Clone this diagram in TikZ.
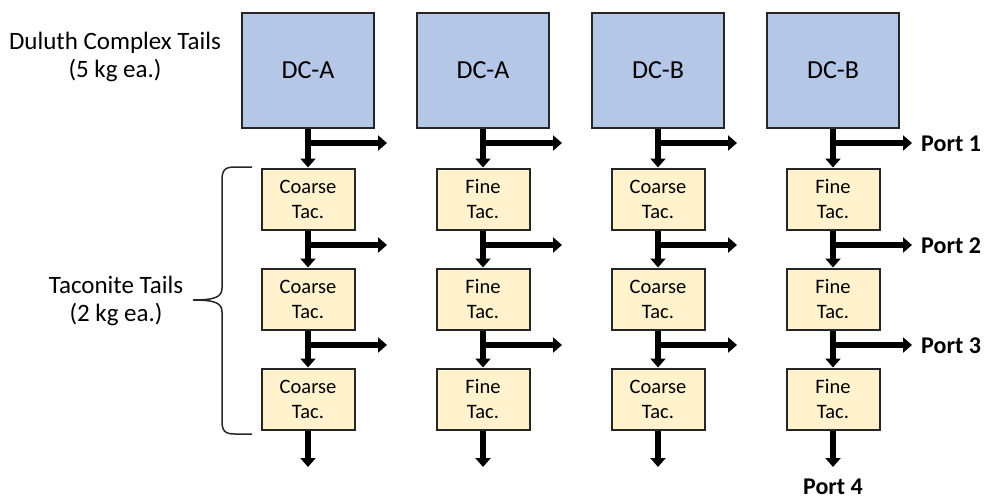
\documentclass[tikz,border=0pt]{standalone}
\usepackage{fontspec}
\setmainfont{Carlito}
\usetikzlibrary{arrows.meta}
\definecolor{dcblue}{HTML}{B4C7E7}
\definecolor{tacyellow}{HTML}{FFF2CC}
\definecolor{edgegray}{HTML}{262626}
\begin{document}
\begin{tikzpicture}[x=1pt,y=-1pt,
  dcbox/.style={draw=edgegray, line width=2pt, fill=dcblue, minimum width=132pt, minimum height=115pt, inner sep=0pt, font=\fontsize{26}{30}\selectfont},
  tacbox/.style={draw=edgegray, line width=2pt, fill=tacyellow, minimum width=93pt, minimum height=61pt, inner sep=0pt, align=center, font=\fontsize{20.5}{25}\selectfont},
  flow/.style={line width=5.5pt, -{Triangle[length=9pt,width=15pt]}},
  sidelabel/.style={align=center, font=\fontsize{25}{28}\selectfont},
  portlabel/.style={font=\bfseries\fontsize{24}{28}\selectfont, inner sep=0pt},
  bracestyle/.style={line width=1.5pt, draw=edgegray}
]
\useasboundingbox (0,0) rectangle (985,499);

\foreach \i/\x/\dc/\t in {1/308/DC-A/Coarse, 2/483/DC-A/Fine, 3/658/DC-B/Coarse, 4/833/DC-B/Fine} {
  \node[dcbox] (dc\i) at (\x,70.5) {\dc};
  \node[tacbox] (ta\i) at (\x,199) {\t\\Tac.};
  \node[tacbox] (tb\i) at (\x,299) {\t\\Tac.};
  \node[tacbox] (tc\i) at (\x,399) {\t\\Tac.};
  \coordinate (ba\i) at (\x,143);
  \coordinate (ea\i) at (\x+79,143);
  \coordinate (bb\i) at (\x,245);
  \coordinate (eb\i) at (\x+79,245);
  \coordinate (bc\i) at (\x,345);
  \coordinate (ec\i) at (\x+79,345);
  \coordinate (out\i) at (\x,467);
  \draw[flow] (dc\i.south) -- (ta\i.north);
  \draw[flow] (ta\i.south) -- (tb\i.north);
  \draw[flow] (tb\i.south) -- (tc\i.north);
  \draw[flow] (tc\i.south) -- (out\i);
  \draw[flow] (ba\i) -- (ea\i);
  \draw[flow] (bb\i) -- (eb\i);
  \draw[flow] (bc\i) -- (ec\i);
}

\node[portlabel, anchor=west] (p1) at (921,144) {Port 1};
\node[portlabel, anchor=west] (p2) at (921,246) {Port 2};
\node[portlabel, anchor=west] (p3) at (921,346) {Port 3};
\node[portlabel] (p4) at (833,487) {Port 4};

\node[sidelabel] (dct) at (115,57) {Duluth Complex Tails\\(5 kg ea.)};
\node[sidelabel] (tct) at (116,301) {Taconite Tails\\(2 kg ea.)};

\draw[bracestyle] (252,167) -- (235,167) .. controls (225,167) and (222,170) .. (222,180)
  -- (222,288) .. controls (222,297) and (215,300) .. (193,300)
  .. controls (215,300) and (222,303) .. (222,312)
  -- (222,421) .. controls (222,431) and (225,434) .. (235,434) -- (252,434);
\end{tikzpicture}
\end{document}
